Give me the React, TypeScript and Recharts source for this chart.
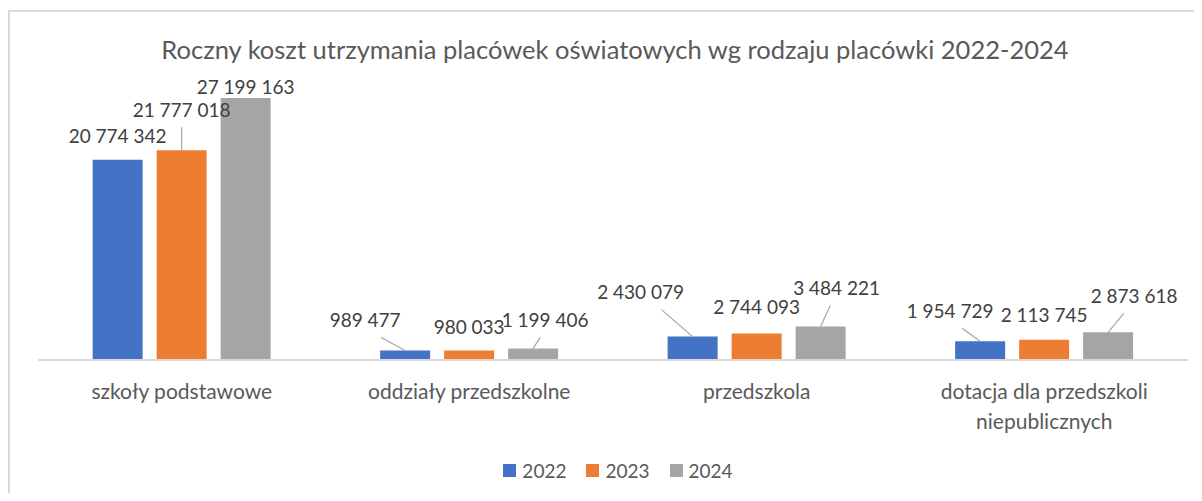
import { BarChart, Bar, XAxis, YAxis, LabelList, Text } from 'recharts'

// ---- data ----
const categories = [
  'szkoły podstawowe',
  'oddziały przedszkolne',
  'przedszkola',
  'dotacja dla przedszkoli niepublicznych'
]
const years = ['2022', '2023', '2024']
const cost2022 = [20774342, 989477, 2430079, 1954729]
const cost2023 = [21777018, 980033, 2744093, 2113745]
const cost2024 = [27199163, 1199406, 3484221, 2873618]

// label placement (offset of label centre from top-centre of bar) + leader line flag
const labelShift: Record<string, [number, number, boolean][]> = {
  '2022': [[0, -24, false], [-40, -30, true], [-52, -44, true], [-30, -30, true]],
  '2023': [[0, -40, true], [0, -23, false], [0, -26, false], [0, -24, false]],
  '2024': [[0, -11, false], [12, -28, true], [16, -38, true], [26, -36, true]]
}

const colors = ['#4472C4', '#ED7D31', '#A5A5A5']
const FONT = 'Lato, "Open Sans", sans-serif'
const TEXT = '#595959'

const chartData = categories.map((name, i) => ({
  name,
  '2022': cost2022[i],
  '2023': cost2023[i],
  '2024': cost2024[i]
}))

const fmt = (v: number) => String(v).replace(/\B(?=(\d{3})+(?!\d))/g, ' ')

const makeLabel = (year: string) => (props: any) => {
  const { x, y, width, value, index } = props
  const [dx, dy, leader] = labelShift[year][index]
  const bx = x + width / 2
  const tx = bx + dx
  const ty = y + dy
  return (
    <g>
      {leader && (
        <line
          x1={tx + (bx - tx) * 0.4}
          y1={ty + 17}
          x2={bx}
          y2={y}
          stroke="#A6A6A6"
          strokeWidth={1.2}
        />
      )}
      <text
        x={tx}
        y={ty}
        dy="0.36em"
        textAnchor="middle"
        fontFamily={FONT}
        fontSize={19}
        fill="#404040"
      >
        {fmt(value)}
      </text>
    </g>
  )
}

const CategoryTick = (props: any) => {
  const { x, y, payload } = props
  return (
    <Text
      x={x}
      y={y}
      dy={16}
      width={240}
      textAnchor="middle"
      verticalAnchor="start"
      lineHeight={30}
      fontFamily={FONT}
      fontSize={21}
      fill={TEXT}
    >
      {payload.value}
    </Text>
  )
}

export default function App() {
  return (
    <div style={{ position: 'relative', width: 1202, height: 501, margin: -8, overflow: 'hidden', background: '#fff' }}>
      {/* strip of the element above */}
      <div style={{ position: 'absolute', left: 8, top: -10, width: 1200, height: 12, borderLeft: '2px solid #d9d9d9', borderBottom: '2px solid #d9d9d9' }} />
      {/* chart frame */}
      <div style={{ position: 'absolute', left: 8, top: 10, width: 1200, height: 500, borderLeft: '2px solid #d9d9d9', borderTop: '2px solid #d9d9d9' }} />

      <div style={{ position: 'absolute', left: 0, top: 34, width: 1230, textAlign: 'center', fontFamily: FONT, fontSize: 25.5, color: TEXT }}>
        Roczny koszt utrzymania placówek oświatowych wg rodzaju placówki 2022-2024
      </div>

      <div style={{ position: 'absolute', left: 0, top: 0 }}>
        <BarChart
          width={1202}
          height={501}
          data={chartData}
          margin={{ top: 71, right: 14, left: 38, bottom: 61 }}
          barGap={14}
          barCategoryGap="19%"
        >
          <XAxis
            dataKey="name"
            height={80}
            tickLine={false}
            axisLine={{ stroke: '#d9d9d9', strokeWidth: 2 }}
            tick={<CategoryTick />}
            interval={0}
          />
          <YAxis hide domain={[0, 30000000]} />
          {years.map((yr, i) => (
            <Bar key={yr} dataKey={yr} fill={colors[i]} isAnimationActive={false}>
              <LabelList dataKey={yr} content={makeLabel(yr)} />
            </Bar>
          ))}
        </BarChart>
      </div>

      {/* legend */}
      <div style={{ position: 'absolute', top: 459, left: 0, width: 1236, display: 'flex', justifyContent: 'center', gap: 20, fontFamily: FONT, fontSize: 19, color: TEXT }}>
        {years.map((yr, i) => (
          <div key={yr} style={{ display: 'flex', alignItems: 'center', gap: 6 }}>
            <span style={{ display: 'inline-block', width: 13, height: 13, background: colors[i] }} />
            <span>{yr}</span>
          </div>
        ))}
      </div>
    </div>
  )
}
